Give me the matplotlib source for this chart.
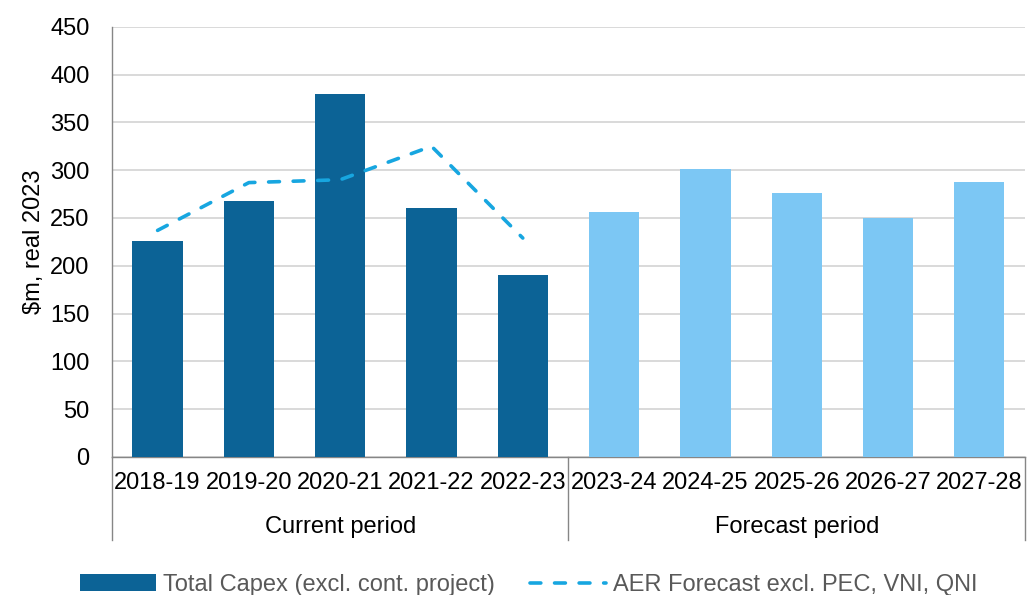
import matplotlib
matplotlib.use("Agg")
import matplotlib.pyplot as plt
import matplotlib.transforms as mtransforms
import numpy as np

plt.rcParams["font.family"] = ["Liberation Sans", "DejaVu Sans"]

# data
years = ["2018-19", "2019-20", "2020-21", "2021-22", "2022-23",
         "2023-24", "2024-25", "2025-26", "2026-27", "2027-28"]
capex = [226, 268, 380, 260, 190, 256, 301, 276, 250, 288]
aer_years = ["2018-19", "2019-20", "2020-21", "2021-22", "2022-23"]
aer_forecast = [237, 287, 290, 325, 229]
groups = ["Current period", "Forecast period"]
group_sizes = [5, 5]

dark_blue = "#0C6396"
light_blue = "#7CC7F4"
line_blue = "#17A6E0"
fs = 17

fig = plt.figure(figsize=(10.27, 5.95), dpi=100)
ax = fig.add_axes([0.109, 0.232, 0.889, 0.723])

x = np.arange(len(years))
n_cur = group_sizes[0]
colors = [dark_blue] * n_cur + [light_blue] * (len(years) - n_cur)
bars = ax.bar(x, capex, width=0.55, color=colors, zorder=3)

x_aer = [years.index(y) for y in aer_years]
line, = ax.plot(x_aer, aer_forecast, color=line_blue, lw=2.6,
                dashes=(3.0, 3.8), dash_capstyle="round", zorder=4)

ax.set_xlim(-0.5, len(years) - 0.5)
ax.set_ylim(0, 450)
ax.set_yticks(range(0, 451, 50))
ax.yaxis.grid(True, color="#D3D3D3", lw=1.2, zorder=0)
ax.set_axisbelow(True)

for s in ["top", "right"]:
    ax.spines[s].set_visible(False)
ax.spines["left"].set_color("#868686")
ax.spines["bottom"].set_color("#868686")
ax.spines["left"].set_linewidth(1.0)
ax.spines["bottom"].set_linewidth(1.0)

ax.set_xticks(x)
ax.set_xticklabels(years, fontsize=fs)
ax.tick_params(axis="x", length=0, pad=11)
ax.tick_params(axis="y", length=0, pad=16, labelsize=fs)
ax.set_ylabel("$m, real 2023", fontsize=fs, labelpad=4)

# category group separators and labels
trans = mtransforms.blended_transform_factory(ax.transData, ax.transAxes)
edges = np.concatenate([[0], np.cumsum(group_sizes)]) - 0.5
for e in edges:
    ax.plot([e, e], [0, -0.193], transform=trans, color="#868686",
            lw=1.0, clip_on=False)
for i, g in enumerate(groups):
    mid = (edges[i] + edges[i + 1]) / 2
    ax.text(mid, -0.163, g, transform=trans, ha="center", va="center",
            fontsize=fs)

fig.legend([bars.patches[0], line],
           ["Total Capex (excl. cont. project)", "AER Forecast excl. PEC, VNI, QNI"],
           loc="center", bbox_to_anchor=(0.515, 1 - 585 / 595), ncol=2,
           frameon=False, fontsize=fs, labelcolor="#595959",
           handlelength=3.2, handletextpad=0.3, columnspacing=1.5)

fig.savefig("out.png", dpi=100)
